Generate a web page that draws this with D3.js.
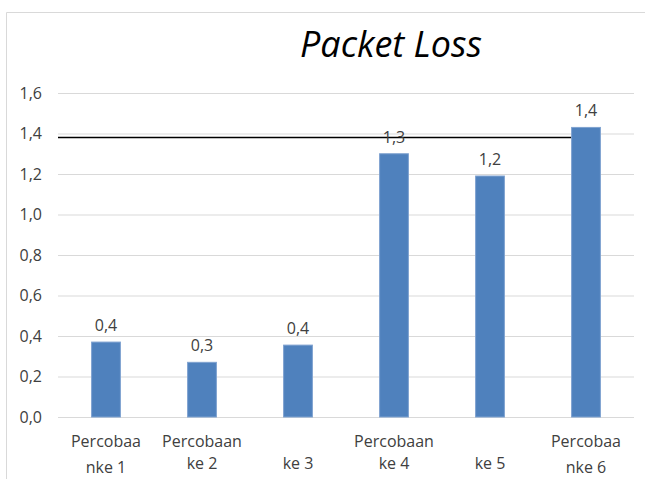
<!DOCTYPE html>
<html>
<head>
<meta charset="utf-8">
<script src="https://cdn.jsdelivr.net/npm/d3@7"></script>
<style>
  html, body { margin: 0; padding: 0; background: #ffffff; }
  svg { display: block; }
</style>
</head>
<body>
<svg id="chart" width="645" height="479"></svg>
<script>
// Packet loss per trial (percent)
const categories = ["Percobaan ke 1", "Percobaan ke 2", "Percobaan ke 3",
                    "Percobaan ke 4", "Percobaan ke 5", "Percobaan ke 6"];
const labelLines = [["Percobaa", "nke 1"], ["Percobaan", "ke 2"], ["", "ke 3"],
                    ["Percobaan", "ke 4"], ["", "ke 5"], ["Percobaa", "nke 6"]];
const packetLoss = [0.37, 0.27, 0.355, 1.30, 1.19, 1.43];
const yTicks = [0, 0.2, 0.4, 0.6, 0.8, 1.0, 1.2, 1.4, 1.6];
const referenceLevel = 1.38;
const title = "Packet Loss";

const svg = d3.select("#chart");
const W = 645, H = 479;
const plot = { left: 58, right: 634, top: 93, bottom: 417 };
const fmt = v => d3.format(".1f")(v).replace(".", ",");
const textFont = "'Open Sans', 'Liberation Sans', sans-serif";

svg.append("rect").attr("width", W).attr("height", H).attr("fill", "#fff");

// chart frame
svg.append("path")
  .attr("d", `M6.5,${H} V12.5 H${W}`)
  .attr("fill", "none").attr("stroke", "#d9d9d9").attr("stroke-width", 1);

const x = d3.scaleBand()
  .domain(categories)
  .range([plot.left, plot.right])
  .paddingInner(0.7)
  .paddingOuter(0.35);

const y = d3.scaleLinear().domain([0, 1.6]).range([plot.bottom, plot.top]);

// gridlines + value axis
const yAxis = d3.axisLeft(y)
  .tickValues(yTicks)
  .tickSize(-(plot.right - plot.left))
  .tickPadding(16)
  .tickFormat(fmt);

const gy = svg.append("g")
  .attr("transform", `translate(${plot.left},0)`)
  .call(yAxis);
gy.select(".domain").remove();
gy.selectAll(".tick line").attr("stroke", "#d9d9d9").attr("stroke-width", 1);
gy.selectAll(".tick text")
  .attr("fill", "#404040")
  .style("font-family", textFont)
  .style("font-size", "16px");

// category axis labels (two lines each)
const gx = svg.append("g");
categories.forEach((c, i) => {
  const cx = x(c) + x.bandwidth() / 2;
  const lines = labelLines[i];
  const y2 = lines[1].startsWith("n") ? 473 : 469;
  gx.append("text")
    .attr("x", cx).attr("y", 447)
    .attr("text-anchor", "middle")
    .attr("fill", "#404040")
    .style("font-family", textFont).style("font-size", "16px")
    .text(lines[0]);
  gx.append("text")
    .attr("x", cx).attr("y", y2)
    .attr("text-anchor", "middle")
    .attr("fill", "#404040")
    .style("font-family", textFont).style("font-size", "16px")
    .text(lines[1]);
});

// reference level line
svg.append("line")
  .attr("x1", plot.left).attr("x2", x(categories[5]))
  .attr("y1", y(referenceLevel)).attr("y2", y(referenceLevel))
  .attr("stroke", "#000").attr("stroke-width", 1.5);

// bars
svg.append("g").selectAll("rect")
  .data(packetLoss)
  .join("rect")
  .attr("x", (d, i) => x(categories[i]))
  .attr("width", x.bandwidth())
  .attr("y", d => y(d))
  .attr("height", d => y(0) - y(d))
  .attr("fill", "#4f81bd")
  .attr("stroke", "#7fa2d0")
  .attr("stroke-width", 1);

// value labels
svg.append("g").selectAll("text")
  .data(packetLoss)
  .join("text")
  .attr("x", (d, i) => x(categories[i]) + x.bandwidth() / 2)
  .attr("y", d => y(d) - 11)
  .attr("text-anchor", "middle")
  .attr("fill", "#404040")
  .style("font-family", textFont).style("font-size", "16px")
  .text(d => fmt(d));

// title
const t = svg.append("text")
  .attr("x", 391).attr("y", 57)
  .attr("text-anchor", "middle")
  .attr("fill", "#000")
  .style("font-family", "'Open Sans', 'Liberation Sans', sans-serif")
  .style("font-style", "italic")
  .style("font-size", "28px")
  .text(title);
const tw = t.node().getComputedTextLength();
t.style("font-size", (28 * 182 / tw) + "px");
</script>
</body>
</html>
